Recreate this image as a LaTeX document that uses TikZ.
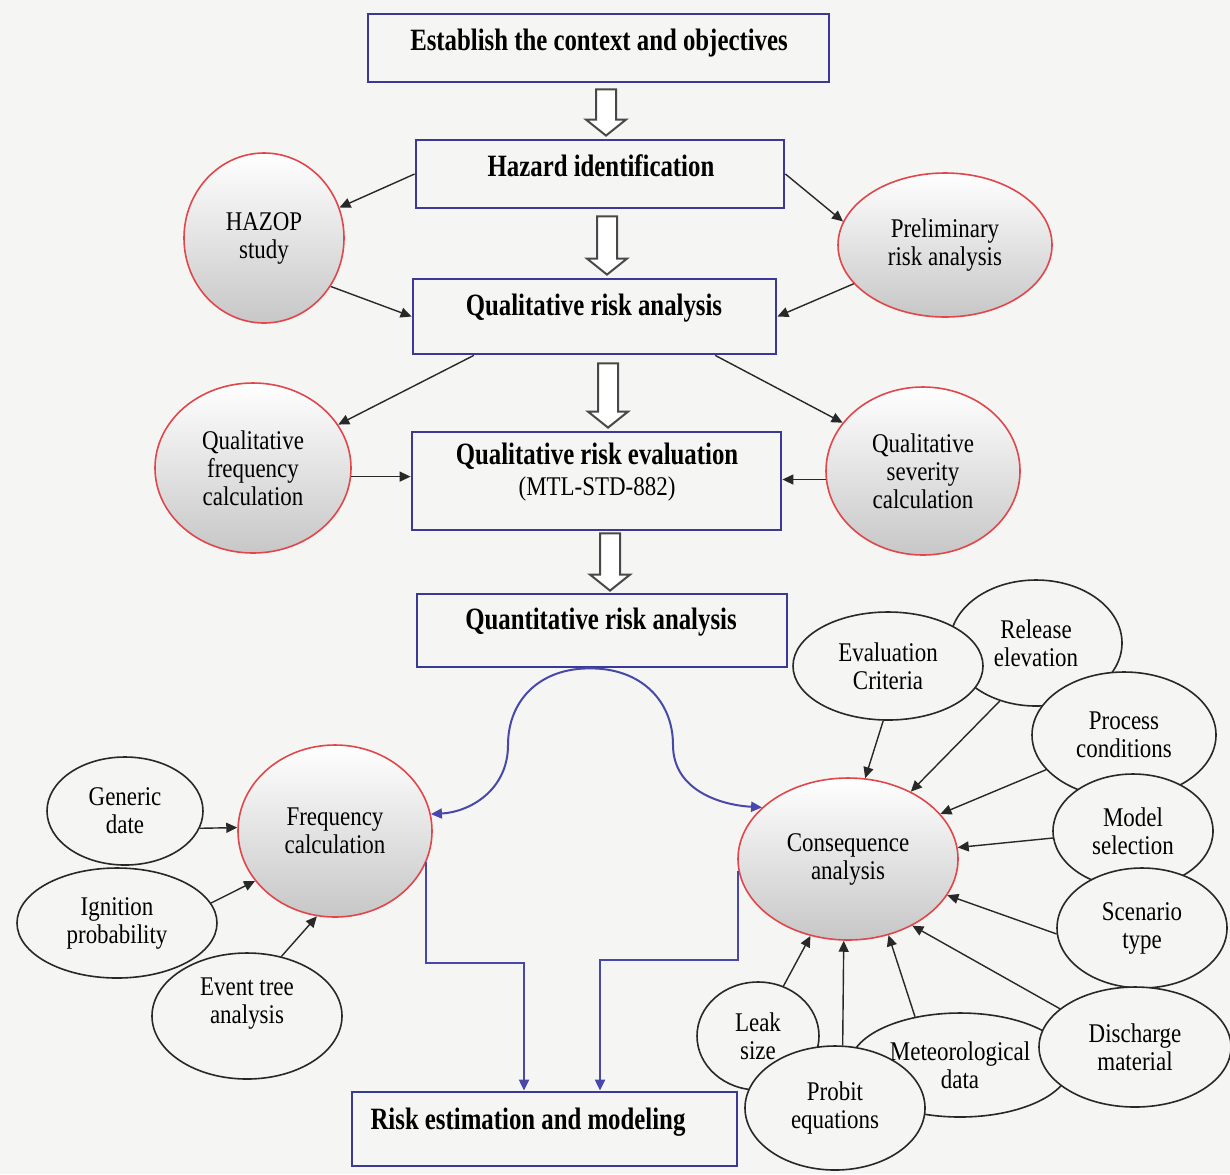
\documentclass[tikz,border=0pt]{standalone}
\usepackage{fontspec}
\setmainfont{Liberation Serif}
\newfontfamily\boxfont[FakeStretch=0.8]{Liberation Serif}
\newfontfamily\ellfont[FakeStretch=0.85]{Liberation Serif}
\usetikzlibrary{arrows.meta,calc,shapes.geometric}

\definecolor{paper}{RGB}{245,245,243}
\definecolor{boxblue}{RGB}{58,58,150}
\definecolor{linkblue}{RGB}{72,72,170}
\definecolor{ringred}{RGB}{225,70,75}
\definecolor{ink}{RGB}{40,40,40}

\tikzset{
  stagebox/.style={draw=boxblue, line width=1.4pt, fill=paper, inner sep=0pt},
  boxsize/.style 2 args={minimum width=#1pt, minimum height=#2pt},
  stagetext/.style={font=\boxfont\bfseries\fontsize{15.5}{18}\selectfont,
    inner sep=0pt, text height=11pt, text depth=3pt},
  plaintext/.style={font=\ellfont\fontsize{13.5}{14}\selectfont,
    inner sep=0pt, text height=10pt, text depth=3pt},
  ell/.style 2 args={minimum width=#1pt, minimum height=#2pt},
  redell/.style={ellipse, draw=ringred, line width=0.8pt,
    top color=white, middle color=white!96!black, bottom color=black!22,
    inner sep=0pt, align=center, font=\ellfont\fontsize{13.5}{14}\selectfont},
  blackell/.style={ellipse, draw=ink, line width=0.8pt, fill=paper,
    inner sep=0pt, align=center, font=\ellfont\fontsize{13.5}{14}\selectfont},
  link/.style={draw=ink, line width=0.7pt, -{Triangle[length=5.5pt,width=5pt]}},
  bluelink/.style={draw=linkblue, line width=1pt, -{Triangle[length=5.5pt,width=5pt]}},
  hollow/.style={draw=ink!85, line width=1pt, fill=white, line join=miter},
}

% hollow block arrow from coordinate #1 (tail) down to coordinate #2 (tip)
\newcommand\blockarrow[2]{%
  \draw[hollow] ($(#1)+(-10,0)$) -- ($(#2)+(-10,-16)$) -- ($(#2)+(-20,-16)$)
    -- (#2) -- ($(#2)+(20,-16)$) -- ($(#2)+(10,-16)$) -- ($(#1)+(10,0)$) -- cycle;}

\begin{document}
\begin{tikzpicture}[x=0.5pt,y=-0.5pt]
\useasboundingbox (0,0) rectangle (1230,1174);
\fill[paper] (0,0) rectangle (1230,1174);

% main chain of stages
\node[stagebox, boxsize={230.5}{34}] (b1) at (598.5,48) {};
\node[stagetext] (b1t) at (599,42) {Establish the context and objectives};
\node[stagebox, boxsize={184}{34}] (b2) at (600,174) {};
\node[stagetext] (b2t) at (601,168) {Hazard identification};
\node[stagebox, boxsize={181.5}{37.5}] (b3) at (594.5,316.5) {};
\node[stagetext] (b3t) at (594,307) {Qualitative risk analysis};
\node[stagebox, boxsize={184.5}{49}] (b4) at (596.5,481) {};
\node[stagetext] (b4t) at (597,456) {Qualitative risk evaluation};
\node[plaintext] (b4s) at (597,488) {(MTL-STD-882)};
\node[stagebox, boxsize={185}{36.5}] (b5) at (602,630.5) {};
\node[stagetext] (b5t) at (601,621) {Quantitative risk analysis};
\node[stagebox, boxsize={192.5}{37}] (b6) at (544.5,1129) {};
\node[stagetext] (b6t) at (528,1121) {Risk estimation and modeling};

% hollow arrows between stages
\coordinate (ax1) at (606,0);
\coordinate (ax2) at (607,0);
\coordinate (ax3) at (608,0);
\coordinate (ax4) at (610,0);
\path (b1.south -| ax1) ++(0,6) coordinate (h1s);
\path (b2.north -| ax1) ++(0,-3) coordinate (h1e);
\path (b2.south -| ax2) ++(0,7) coordinate (h2s);
\path (b3.north -| ax2) ++(0,-3) coordinate (h2e);
\path (b3.south -| ax3) ++(0,8) coordinate (h3s);
\path (b4.north -| ax3) ++(0,-3) coordinate (h3e);
\path (b4.south -| ax4) ++(0,2) coordinate (h4s);
\path (b5.north -| ax4) ++(0,-2) coordinate (h4e);
\blockarrow{h1s}{h1e}
\blockarrow{h2s}{h2e}
\blockarrow{h3s}{h3e}
\blockarrow{h4s}{h4e}

% qualitative side studies
\node[redell, ell={80}{85}] (hazop) at (264,238) {HAZOP\\study};
\node[redell, ell={107}{72}] (prelim) at (945,245) {Preliminary\\risk analysis};
\node[redell, ell={98}{85}] (qfreq) at (253,468) {Qualitative\\frequency\\calculation};
\node[redell, ell={97}{84}] (qsev) at (923,471) {Qualitative\\severity\\calculation};

% quantitative branches
\node[redell, ell={97}{86}] (freq) at (335,831) {Frequency\\calculation};
\node[redell, ell={110}{81}] (cons) at (848,859) {Consequence\\analysis};

% frequency inputs
\node[blackell, ell={78}{54}] (gen) at (125,811) {Generic\\date};
\node[blackell, ell={100}{55}] (ign) at (117,923) {Ignition\\probability};
\node[blackell, ell={95}{63}] (evt) at (247,1016) {Event tree\\analysis\\[1pt]};

% consequence inputs
\node[blackell, ell={86}{63}] (rel) at (1036,643) {Release\\elevation};
\node[blackell, ell={95}{54}] (eva) at (888,666) {Evaluation\\Criteria};
\node[blackell, ell={92}{63}] (proc) at (1124,735) {Process\\conditions};
\node[blackell, ell={80}{57}] (model) at (1133,831) {Model\\selection};
\node[blackell, ell={85}{60}] (scen) at (1142,928) {Scenario\\type};
\node[blackell, ell={110}{52}] (met) at (960,1065) {Meteorological\\data};
\node[blackell, ell={96}{60}] (dis) at (1135,1047) {Discharge\\material};
\node[blackell, ell={61}{54}] (leak) at (758,1036) {Leak\\size};
\node[blackell, ell={90}{62}] (prob) at (835,1108) {Probit\\equations};

% links of the qualitative part
\draw[link] (b2.west) -- (hazop.22);
\draw[link] (hazop.-36) -- (b3.west);
\draw[link] (b2.east) -- (prelim.167);
\draw[link] (prelim.203) -- (b3.east);
\draw[link] ($(b3.south west)!0.17!(b3.south east)$) -- (qfreq.27);
\draw[link] ($(b3.south west)!0.83!(b3.south east)$) -- (qsev.149);
\draw[link] (qfreq.-5) -- (qfreq.-5 -| b4.west);
\draw[link] (qsev.185) -- (qsev.185 -| b4.east);

% frequency inputs
\draw[link] (gen.-13) -- (freq.178);
\draw[link] (ign.12) -- (freq.212);
\draw[link] (evt.60) -- (freq.258);

% consequence inputs
\draw[link] (eva.265) -- (cons.78);
\draw[link] (rel.238) -- (cons.47);
\draw[link] (proc.204) -- (cons.26);
\draw[link] (model.185) -- (cons.6);
\draw[link] (scen.184) -- (cons.-20);
\draw[link] (dis.153) -- (cons.-46);
\draw[link] (met.133) -- (cons.-62);
\draw[link] (prob.83) -- (cons.267);
\draw[link] (leak.63) -- (cons.244);

% split of the quantitative analysis
\coordinate (archtop) at ($(b5.south)+(-12,0)$);
\draw[bluelink] (archtop) .. controls (540,668) and (508,700) .. (508,745)
  .. controls (508,790) and (470,812) .. (freq.10);
\draw[bluelink] (archtop) .. controls (640,668) and (673,700) .. (673,745)
  .. controls (673,790) and (720,805) .. (cons.149);

% merge into risk estimation
\coordinate (fj) at (524,963);
\coordinate (cj) at (600,960);
\draw[bluelink] (freq.-19) |- (fj) -- (fj |- b6.north);
\draw[bluelink] (cons.186) |- (cj) -- (cj |- b6.north);
\end{tikzpicture}
\end{document}
